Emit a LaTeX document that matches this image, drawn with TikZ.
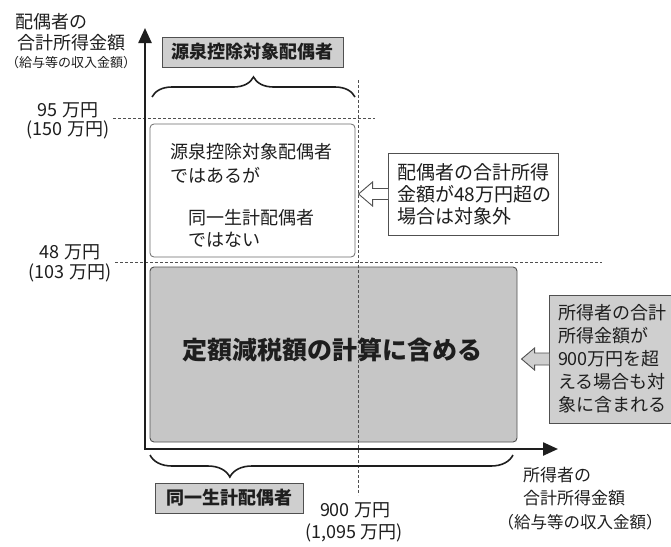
\documentclass[tikz,border=0pt]{standalone}
\usepackage{fontspec}
\setmainfont{Noto Sans CJK JP}
\usetikzlibrary{arrows.meta,decorations.pathreplacing,calc}
\definecolor{ink}{HTML}{1E1E1E}
\definecolor{boxgray}{HTML}{C6C6C6}
\definecolor{labgray}{HTML}{CFCFCF}
\definecolor{edge}{HTML}{505050}
\newcommand\fs[2]{\fontsize{#1}{#2}\selectfont}
\begin{document}
\begin{tikzpicture}[x=1pt,y=-1pt,
  lbl/.style={inner sep=0pt, text=ink, font=\fs{18}{22}},
  tagbox/.style={draw=edge, fill=labgray, line width=0.9pt, inner sep=0pt,
    minimum height=30pt, font=\bfseries\fs{18}{22}, text=ink},
  dashline/.style={draw=edge, line width=0.8pt, dash pattern=on 3pt off 2pt},
  bracestyle/.style={draw=ink, line width=1.6pt, decorate},
  axisline/.style={draw=ink, line width=2.4pt, line join=miter,
    {Triangle[width=13pt,length=15pt]}-{Triangle[width=13pt,length=15pt]}},
  callout/.style={draw=edge, line width=0.9pt, align=left, inner xsep=9pt,
    inner ysep=0pt, text=ink},
  blockarrow/.style={draw=edge, line width=0.9pt, line join=miter}
]
\useasboundingbox (0,0) rectangle (671,546);
\fill[white] (0,0) rectangle (671,546);

% regions
\node[draw=edge!85, fill=white, rounded corners=4pt, line width=0.8pt,
  minimum width=205pt, minimum height=133pt, inner sep=0pt] (wbox) at (252.5,190.5) {};
\node[draw=edge, fill=boxgray, rounded corners=4pt, line width=0.9pt,
  minimum width=367pt, minimum height=175pt, inner sep=0pt] (gbox) at (333.5,354.5) {};

% dashed guide lines
\coordinate (d95a) at (113,118); \coordinate (d95b) at (375,118);
\coordinate (d48a) at (115,262); \coordinate (d48b) at (602,262);
\coordinate (d900a) at (358,80); \coordinate (d900b) at (358,495);
\draw[dashline] (d95a) -- (d95b);
\draw[dashline] (d48a) -- (d48b);
\draw[dashline] (d900a) -- (d900b);

% axes
\coordinate (ytop) at (145,28);
\coordinate (orig) at (145,449);
\coordinate (xend) at (558,449);
\draw[axisline] (ytop) -- (orig) -- (xend);

% tags
\node[tagbox, minimum width=181pt] (tagA) at (252.5,52) {源泉控除対象配偶者};
\node[tagbox, minimum width=148pt] (tagB) at (229,498) {同一生計配偶者};

% braces
\coordinate (brA1) at (152,97); \coordinate (brA2) at (355,97);
\draw[bracestyle, decoration={brace, amplitude=20pt}] (brA1) -- (brA2);
\coordinate (brB1) at (513,455); \coordinate (brB2) at (150,455);
\draw[bracestyle, decoration={brace, amplitude=22pt, aspect=0.78}] (brB1) -- (brB2);

% white box texts
\node[lbl, anchor=west] (w1) at (170,152) {源泉控除対象配偶者};
\node[lbl, anchor=west] (w2) at (170,175) {ではあるが};
\node[lbl, anchor=west] (w3) at (188,218) {同一生計配偶者};
\node[lbl, anchor=west] (w4) at (188,240) {ではない};

% gray box text
\node[inner sep=0pt, text=ink, font=\bfseries\fs{25}{30}] (gtext) at (332,350)
  {定額減税額の計算に含める};

% callout A
\node[callout, fill=white, text width=152pt, minimum height=82pt,
  font=\fs{19}{22}] (callA) at (473,194)
  {配偶者の合計所得\\金額が48万円超の\\場合は対象外};
\draw[blockarrow, fill=white] ($(callA.west)+(0.6,-5.5)$) -- ++(-15.6,0) -- ++(0,-6.5)
  -- ++(-14,12) -- ++(14,12) -- ++(0,-6.5) -- ++(15.6,0);

% callout B
\node[callout, fill=labgray, text width=130pt, minimum height=128pt,
  font=\fs{18}{23}] (callB) at (623,359)
  {所得者の合計\\所得金額が\\900万円を超\\える場合も対\\象に含まれる};
\draw[blockarrow, fill=labgray] ($(callB.west)+(0.6,-6)$) -- ++(-14.6,0) -- ++(0,-5)
  -- ++(-13,11) -- ++(13,11) -- ++(0,-5) -- ++(14.6,0);

% axis labels
\node[lbl, anchor=west] (ylab1) at (15,22) {配偶者の};
\node[lbl, anchor=west] (ylab2) at (17,43) {合計所得金額};
\node[lbl, font=\fs{13}{16}] (ylab3) at (71,63) {（給与等の収入金額）};
\node[lbl, font=\fs{17}{20}, anchor=west] (xlab1) at (523,475) {所得者の};
\node[lbl, font=\fs{17}{20}, anchor=west] (xlab2) at (523,498) {合計所得金額};
\node[lbl, font=\fs{16.5}{20}] (xlab3) at (580,522) {（給与等の収入金額）};

% values
\node[lbl] (v95) at (68,110) {95 万円};
\node[lbl] (v150) at (68,130) {(150 万円)};
\node[lbl] (v48) at (70,252) {48 万円};
\node[lbl] (v103) at (70,273) {(103 万円)};
\node[lbl] (v900) at (355,510) {900 万円};
\node[lbl] (v1095) at (354,533) {(1,095 万円)};
\end{tikzpicture}
\end{document}
